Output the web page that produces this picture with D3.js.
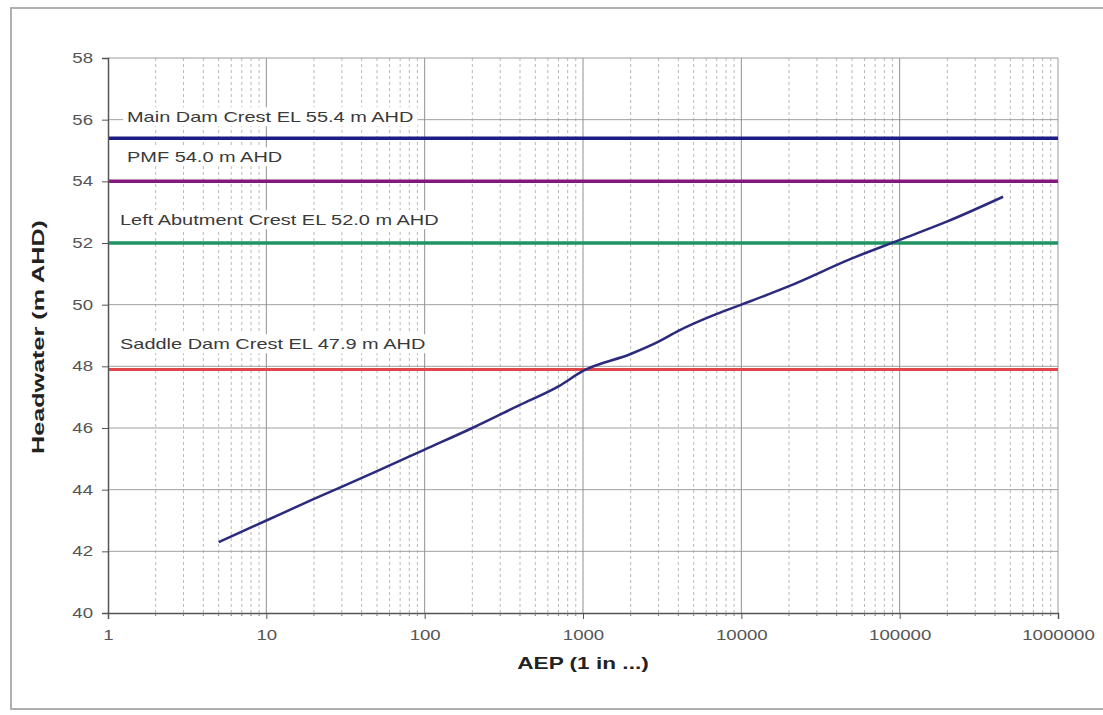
<!DOCTYPE html>
<html><head><meta charset="utf-8">
<script src="https://cdn.jsdelivr.net/npm/d3@7"></script>
<style>body{margin:0;background:#fff}svg{display:block}</style>
</head><body>
<svg id="c" width="1103" height="715"></svg>
<script>
const aep = [5,10,20,50,100,200,400,700,1000,2000,3000,4000,7000,10000,20000,50000,100000,200000,450000];
const headwater = [42.3,43.0,43.7,44.6,45.3,46.0,46.75,47.35,47.85,48.4,48.8,49.15,49.7,50.0,50.6,51.5,52.1,52.7,53.5];
const refNames = ["Main Dam Crest EL 55.4 m AHD","PMF 54.0 m AHD","Left Abutment Crest EL 52.0 m AHD","Saddle Dam Crest EL 47.9 m AHD"];
const refLevels = [55.4,54.0,52.0,47.9];
const refColors = ["#1c1c86","#84187f","#1f9463","#e0474c"];
const xTicks = [1,10,100,1000,10000,100000,1000000];
const yTicks = [40,42,44,46,48,50,52,54,56,58];

function stretch(sel, f){
  f = f || 1.33;
  sel.each(function(){
    const len=this.getComputedTextLength();
    d3.select(this).attr("textLength",len*f).attr("lengthAdjust","spacingAndGlyphs");
  });
}

const svg = d3.select("#c");
const L=108,R=1058,T=58,B=613;
const x = d3.scaleLog().domain([1,1e6]).range([L,R]);
const y = d3.scaleLinear().domain([40,58]).range([B,T]);
const font="Liberation Sans, Arial, sans-serif";

svg.append("path").attr("d","M1110,8H11V709H1110").attr("fill","none").attr("stroke","#b0b0b0").attr("stroke-width",2);

const g = svg.append("g");
const minors=[];
for(let d=1; d<1e6; d*=10) for(let k=2;k<=9;k++) minors.push(d*k);
g.selectAll(".mv").data(minors).enter().append("line")
 .attr("x1",d=>x(d)).attr("x2",d=>x(d)).attr("y1",T).attr("y2",B)
 .attr("stroke","#b8b8b8").attr("stroke-width",1).attr("stroke-dasharray","3,3");
g.selectAll(".hg").data(yTicks.slice(1,-1)).enter().append("line")
 .attr("x1",L).attr("x2",R).attr("y1",d=>y(d)).attr("y2",d=>y(d))
 .attr("stroke","#a0a0a0").attr("stroke-width",1);
g.selectAll(".vg").data(xTicks.slice(1,-1)).enter().append("line")
 .attr("x1",d=>x(d)).attr("x2",d=>x(d)).attr("y1",T).attr("y2",B)
 .attr("stroke","#909090").attr("stroke-width",1);
g.append("path").attr("d",`M${L},${T}H${R}V${B}`).attr("fill","none").attr("stroke","#9a9a9a").attr("stroke-width",1);

const labelPos = [[127,117],[127,157],[120,220],[120,344]];
const labs = g.selectAll(".lab").data(refNames).enter().append("g");
labs.each(function(d,i){
  const gg=d3.select(this);
  const t=gg.append("text").attr("x",labelPos[i][0]).attr("y",labelPos[i][1]).attr("dy","0.35em")
   .attr("font-family",font).attr("font-size",15).attr("fill","#3a3a3a").text(d);
  stretch(t);
  const bb=t.node().getBBox();
  gg.insert("rect","text").attr("x",bb.x-4).attr("y",bb.y-1).attr("width",bb.width+8).attr("height",bb.height+2).attr("fill","#fff");
});

g.selectAll(".ref").data(refLevels).enter().append("line")
 .attr("x1",L).attr("x2",R).attr("y1",d=>y(d)).attr("y2",d=>y(d))
 .attr("stroke",(d,i)=>refColors[i]).attr("stroke-width",(d,i)=>i==3?3:3.5);

g.append("path").datum(aep.map((a,i)=>[a,headwater[i]]))
 .attr("d",d3.line().x(d=>x(d[0])).y(d=>y(d[1])).curve(d3.curveMonotoneX))
 .attr("fill","none").attr("stroke","#2b2b7e").attr("stroke-width",2.5);

const ya = svg.append("g").attr("transform",`translate(${L},0)`)
 .call(d3.axisLeft(y).tickValues(yTicks).tickSize(6).tickPadding(9).tickFormat(d3.format("d")));
const xa = svg.append("g").attr("transform",`translate(0,${B})`)
 .call(d3.axisBottom(x).tickValues(xTicks).tickSize(6).tickPadding(11).tickFormat(d3.format("d")));
svg.append("g").selectAll("line").data(minors).enter().append("line")
 .attr("x1",d=>x(d)).attr("x2",d=>x(d)).attr("y1",B).attr("y2",B+3).attr("stroke","#777");
[ya,xa].forEach(a=>{
  a.select(".domain").attr("stroke","#555").attr("stroke-width",1.5);
  a.selectAll(".tick line").attr("stroke","#555");
  a.selectAll(".tick text").attr("font-family",font).attr("font-size",14).attr("fill","#555").call(stretch);
});

svg.append("text").attr("transform","translate(44,337) rotate(-90)").attr("text-anchor","middle")
 .attr("font-family",font).attr("font-weight","bold").attr("font-size",17).attr("fill","#222").text("Headwater (m AHD)").call(stretch,1.48);
svg.append("text").attr("x",583).attr("y",669).attr("text-anchor","middle")
 .attr("font-family",font).attr("font-weight","bold").attr("font-size",17).attr("fill","#222").text("AEP (1 in ...)").call(stretch);
</script>
</body></html>
